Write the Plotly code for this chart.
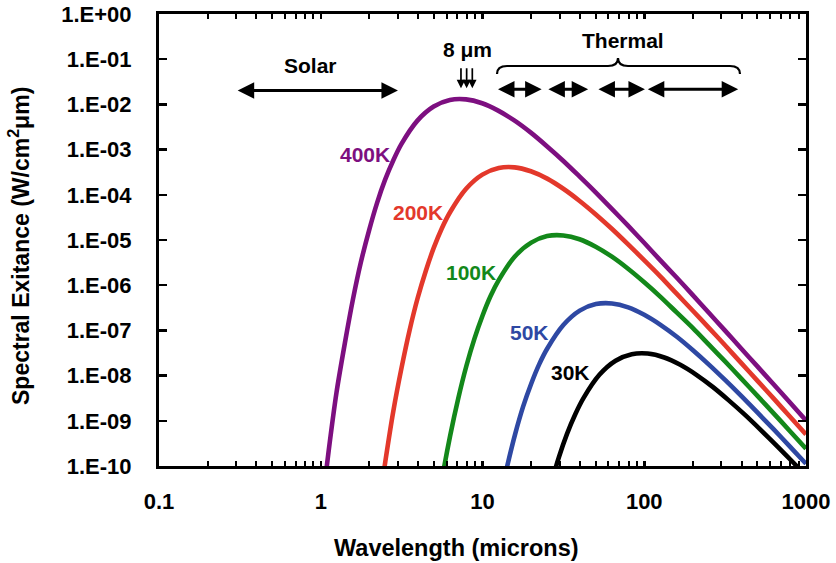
import math
import plotly.graph_objects as go

# ---------------- data ----------------
wl_400 = [1.0, 1.12, 1.25, 1.41, 1.58, 1.77, 1.99, 2.23, 2.5, 2.81, 3.15, 3.96, 4.99, 6.28, 7.91,
          9.95, 12.5, 15.8, 19.9, 25, 31.5, 39.6, 49.9, 62.8, 79.1, 99.5, 125, 158, 199, 250,
          315, 396, 499, 628, 791, 1000]
m_400 = [7.71e-12, 2.21e-10, 4.12e-9, 5.26e-8, 4.79e-7, 3.21e-6, 1.64e-5, 6.64e-5, 2.16e-4,
         5.81e-4, 1.32e-3, 4.37e-3, 8.95e-3, 1.25e-2, 1.29e-2, 1.06e-2, 7.28e-3, 4.37e-3,
         2.37e-3, 1.19e-3, 5.68e-4, 2.59e-4, 1.15e-4, 4.95e-5, 2.10e-5, 8.79e-6, 3.64e-6,
         1.50e-6, 6.10e-7, 2.48e-7, 1.00e-7, 4.03e-8, 1.62e-8, 6.50e-9, 2.60e-9, 1.02e-9]

wl_200 = [2.23, 2.51, 2.81, 3.16, 3.54, 3.97, 4.46, 5.0, 5.61, 6.3, 7.92, 9.98, 12.6, 15.8,
          19.9, 25.1, 31.6, 39.7, 50, 63, 79.2, 99.8, 126, 158, 199, 251, 316, 397, 500,
          630, 792, 1000]
m_200 = [6.92e-12, 1.29e-10, 1.64e-9, 1.50e-8, 1.00e-7, 5.14e-7, 2.07e-6, 6.76e-6, 1.82e-5,
         4.11e-5, 1.36e-4, 2.80e-4, 3.91e-4, 4.05e-4, 3.31e-4, 2.28e-4, 1.36e-4, 7.40e-5,
         3.72e-5, 1.77e-5, 8.09e-6, 3.58e-6, 1.55e-6, 6.58e-7, 2.75e-7, 1.14e-7, 4.68e-8,
         1.91e-8, 7.74e-9, 3.13e-9, 1.26e-9, 5.01e-10]

wl_100 = [5.01, 5.62, 6.31, 7.08, 7.94, 8.91, 10, 11.2, 12.6, 15.8, 20.0, 25.1, 31.6, 39.8,
          50.1, 63.1, 79.4, 100, 126, 158, 200, 251, 316, 398, 501, 631, 794, 1000]
m_100 = [4.03e-12, 5.14e-11, 4.68e-10, 3.13e-9, 1.61e-8, 6.49e-8, 2.11e-7, 5.68e-7, 1.29e-6,
         4.27e-6, 8.75e-6, 1.22e-5, 1.26e-5, 1.04e-5, 7.11e-6, 4.27e-6, 2.31e-6, 1.16e-6,
         5.53e-7, 2.53e-7, 1.12e-7, 4.84e-8, 2.06e-8, 8.59e-9, 3.56e-9, 1.46e-9, 5.96e-10,
         2.42e-10]

wl_50 = [11.2, 12.6, 14.2, 15.9, 17.8, 20, 22.4, 25.2, 31.7, 39.9, 50.2, 63.2, 79.6, 100,
         126, 159, 200, 252, 317, 399, 502, 632, 796, 1000]
m_50 = [1.61e-12, 1.46e-11, 9.79e-11, 5.02e-10, 2.03e-9, 6.61e-9, 1.77e-8, 4.02e-8, 1.33e-7,
        2.74e-7, 3.82e-7, 3.95e-7, 3.24e-7, 2.22e-7, 1.33e-7, 7.23e-8, 3.64e-8, 1.73e-8,
        7.91e-9, 3.50e-9, 1.51e-9, 6.43e-10, 2.69e-10, 1.12e-10]

wl_30 = [23.6, 26.5, 29.7, 33.3, 37.4, 42.0, 52.8, 66.5, 83.7, 105, 133, 167, 210, 265, 333,
         420, 528, 665, 837, 1000]
m_30 = [7.62e-12, 3.91e-11, 1.58e-10, 5.14e-10, 1.38e-9, 3.13e-9, 1.04e-8, 2.13e-8, 2.97e-8,
        3.08e-8, 2.52e-8, 1.73e-8, 1.04e-8, 5.62e-9, 2.83e-9, 1.35e-9, 6.15e-10, 2.72e-10,
        1.18e-10, 6.10e-11]

curve_names = ["400K", "200K", "100K", "50K", "30K"]
curve_wl = [wl_400, wl_200, wl_100, wl_50, wl_30]
curve_m = [m_400, m_200, m_100, m_50, m_30]

x_tickvals = [0.1, 1, 10, 100, 1000]
x_ticktext = ["0.1", "1", "10", "100", "1000"]
y_tickvals = [1e0, 1e-1, 1e-2, 1e-3, 1e-4, 1e-5, 1e-6, 1e-7, 1e-8, 1e-9, 1e-10]
y_ticktext = ["1.E+00", "1.E-01", "1.E-02", "1.E-03", "1.E-04", "1.E-05", "1.E-06",
              "1.E-07", "1.E-08", "1.E-09", "1.E-10"]

solar_band = [0.3, 3.0]
thermal_bands = [[12.2, 23.2], [25.0, 45.0], [51.0, 101.0], [103.0, 381.0]]
eight_um_arrows = [7.36, 7.98, 8.65]

# ---------------- styling ----------------
colors = ["#7d0f80", "#e3382b", "#13881a", "#2e48a3", "#000000"]
FONT = "Liberation Sans, Arial, sans-serif"
label_pos = [(1.865, 7.66e-4), (3.99, 4.0e-5), (8.43, 1.89e-6), (19.4, 8.9e-8), (35.0, 1.18e-8)]

W, H = 836, 563
L, R, T, B = 159, 30, 14, 97
PW, PH = W - L - R, H - T - B


def lg(v):
    return math.log10(v)


def pxp(px, py):
    # page pixel -> paper fraction
    return (px - L) / PW, (H - B - py) / PH


fig = go.Figure()
for name, xs, ys, c in zip(curve_names, curve_wl, curve_m, colors):
    fig.add_trace(go.Scatter(x=xs, y=ys, mode="lines", name=name,
                             line=dict(color=c, width=4.6, shape="spline", smoothing=0.8),
                             showlegend=False, hoverinfo="skip"))

ann = []
for name, (lx, ly), c in zip(curve_names, label_pos, colors):
    ann.append(dict(x=lg(lx), y=lg(ly), xref="x", yref="y", text=name, showarrow=False,
                    xanchor="center", yanchor="middle",
                    font=dict(family=FONT, size=21, color=c, weight="bold")))

ARROW_Y = 0.0202
THERM_Y = 0.0216


def dbl_arrow(x0, x1, yv):
    return dict(x=lg(x1), y=lg(yv), ax=lg(x0), ay=lg(yv), xref="x", yref="y",
                axref="x", ayref="y", text="", showarrow=True, arrowside="end+start",
                arrowhead=2, arrowsize=1.1, startarrowhead=2, startarrowsize=1.1,
                arrowwidth=3, arrowcolor="black", standoff=0, startstandoff=0)


ann.append(dbl_arrow(solar_band[0], solar_band[1], ARROW_Y))
for a, b in thermal_bands:
    ann.append(dbl_arrow(a, b, THERM_Y))

for xv in eight_um_arrows:
    ann.append(dict(x=lg(xv), y=lg(0.0228), ax=lg(xv), ay=lg(0.0685), xref="x", yref="y",
                    axref="x", ayref="y", text="", showarrow=True, arrowhead=2,
                    arrowsize=1.0, arrowwidth=1.7, arrowcolor="black", standoff=0))

for txt, lx, ly in [("Solar", 0.86, 0.071), ("8 μm", 8.1, 0.16), ("Thermal", 73.5, 0.266)]:
    ann.append(dict(x=lg(lx), y=lg(ly), xref="x", yref="y", text=txt, showarrow=False,
                    xanchor="center", yanchor="middle",
                    font=dict(family=FONT, size=21, color="black", weight="bold")))

# axis titles
tx, ty = pxp(456, 548)
ann.append(dict(x=tx, y=ty, xref="paper", yref="paper", text="Wavelength (microns)",
                showarrow=False, xanchor="center", yanchor="middle",
                font=dict(family=FONT, size=23.5, color="black", weight="bold")))
yx, yy = pxp(19, 246)
ann.append(dict(x=yx, y=yy, xref="paper", yref="paper",
                text="Spectral Exitance (W/cm<sup>2</sup>μm)", textangle=-90,
                showarrow=False, xanchor="center", yanchor="middle",
                font=dict(family=FONT, size=23, color="black", weight="bold")))

# curly brace over thermal bands
pts = {"l": pxp(497, 74), "l2": pxp(497, 66), "l3": pxp(507, 66), "m1": pxp(608, 66),
       "m2": pxp(618, 66), "tip": pxp(618, 58), "m3": pxp(628, 66), "r1": pxp(730, 66),
       "r2": pxp(740, 66), "r": pxp(740, 74)}


def P(k):
    return f"{pts[k][0]:.5f},{pts[k][1]:.5f}"


path = (f"M {P('l')} Q {P('l2')} {P('l3')} L {P('m1')} Q {P('m2')} {P('tip')} "
        f"Q {P('m2')} {P('m3')} L {P('r1')} Q {P('r2')} {P('r')}")
shapes = [dict(type="path", path=path, xref="paper", yref="paper",
               line=dict(color="black", width=2.2))]

axis_common = dict(showline=True, linecolor="black", linewidth=3, mirror="ticks",
                   ticks="inside", tickcolor="black", showgrid=False, zeroline=False,
                   automargin=False, ticklabeloverflow="allow")

fig.update_layout(
    template="none",
    width=W, height=H,
    margin=dict(l=L, r=R, t=T, b=B, autoexpand=False),
    paper_bgcolor="white", plot_bgcolor="white",
    annotations=ann, shapes=shapes,
    xaxis=dict(type="log", range=[-1, 3], tickvals=x_tickvals, ticktext=x_ticktext,
               ticklen=5, tickwidth=2.5, ticklabelstandoff=14,
               tickfont=dict(family=FONT, size=22, color="black", weight="bold"),
               minor=dict(ticks="inside", ticklen=5, tickwidth=2, tickcolor="black",
                          dtick="D1", showgrid=False),
               **axis_common),
    yaxis=dict(type="log", range=[-10, 0], tickvals=y_tickvals, ticktext=y_ticktext,
               ticklen=8, tickwidth=2.5, ticklabelstandoff=20,
               tickfont=dict(family=FONT, size=22, color="black", weight="bold"),
               **axis_common),
)

fig.write_html("out.html",
               config={"displayModeBar": False, "staticPlot": True},
               post_script="document.body.style.margin='0px';"
                           "document.body.style.overflow='hidden';")
